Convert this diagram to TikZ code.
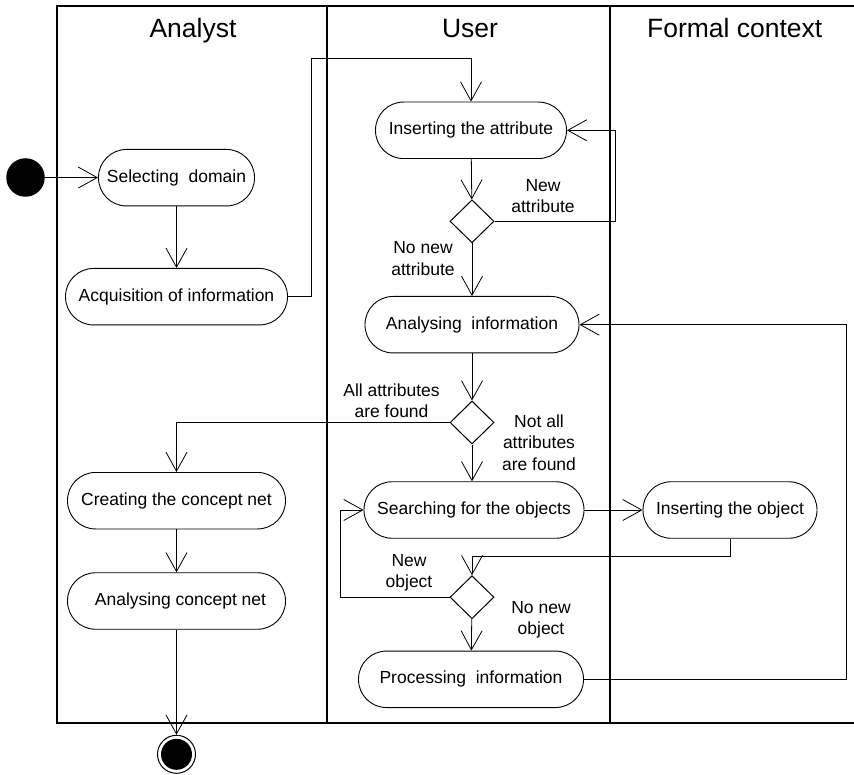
\documentclass[tikz,border=0pt]{standalone}
\usepackage{fontspec}
\setmainfont{Liberation Sans}
\usetikzlibrary{arrows.meta,shapes.geometric}
\begin{document}
\begin{tikzpicture}[x=1pt,y=-1pt,
  act/.style={draw, line width=0.9pt, rounded corners=28pt, minimum height=56.5pt, inner sep=0pt, font=\fontsize{17.5}{21}\selectfont},
  dec/.style={draw, diamond, line width=1pt, minimum width=44pt, minimum height=43pt, inner sep=0pt},
  flow/.style={line width=0.8pt, -{Straight Barb[length=19pt,width=21pt]}},
  link/.style={line width=0.8pt},
  lbl/.style={align=center, font=\fontsize{17.5}{21.3}\selectfont, inner sep=0pt},
  hdr/.style={font=\fontsize{26.5}{30}\selectfont, anchor=base, inner sep=0pt},
  frame/.style={line width=1.8pt}]
\useasboundingbox (0,0) rectangle (854,775);

% swimlane frame
\draw[frame] (856,6) -- (57.3,6) -- (57.3,722.7) -- (856,722.7);
\draw[frame] (327,6) -- (327,722.7);
\draw[frame] (610,6) -- (610,722.7);

% headers
\node[hdr] (hA) at (193,38) {Analyst};
\node[hdr] (hU) at (470,38) {User};
\node[hdr] (hF) at (734.7,38) {Formal context};

% start / end
\node[circle, fill=black, minimum size=38.5pt, inner sep=0pt] (start) at (25.5,177.5) {};
\node[circle, draw, line width=1pt, minimum size=38pt, inner sep=0pt] (final) at (176.5,754.3) {};
\fill (final.center) circle (15.5pt);

% activities - Analyst
\node[act, minimum width=156pt] (sel) at (176.5,177.7) {Selecting~~domain};
\node[act, minimum width=222pt] (acq) at (176.5,296.7) {Acquisition of information};
\node[act, minimum width=218pt] (creat) at (176.5,500.7) {Creating the concept net};
\node[act, minimum width=218pt] (anaC) at (176.5,601) {\hspace{8pt}Analysing concept net};

% activities - User
\node[act, minimum width=191pt] (insA) at (471,130.3) {Inserting the attribute};
\node[dec] (d1) at (472,221.3) {};
\node[act, minimum width=214pt] (anaI) at (472,324.7) {Analysing~~information};
\node[dec] (d2) at (472,422.5) {};
\node[act, minimum width=220pt] (search) at (474,510) {Searching for the objects};
\node[dec] (d3) at (472,597.2) {};
\node[act, minimum width=225pt] (proc) at (471,679.3) {Processing~~information};

% activities - Formal context
\node[act, minimum width=174pt] (insO) at (730,510) {Inserting the object};

% guard labels
\node[lbl] (lNewA) at (543,196) {New\\attribute};
\node[lbl] (lNoNewA) at (423,258.5) {No new\\attribute};
\node[lbl] (lAll) at (391.5,400.5) {All attributes\\are found};
\node[lbl] (lNotAll) at (539,442.5) {Not all\\attributes\\are found};
\node[lbl] (lNewO) at (409,572.5) {New\\object};
\node[lbl] (lNoNewO) at (541,619.5) {No new\\object};

% helper coordinates
\coordinate (c1) at (311.7,58.3);
\coordinate (c2) at (615.6,221.3);
\coordinate (c3) at (472,556.7);
\coordinate (c4) at (340.4,597.2);
\coordinate (c5) at (846.7,679.3);

% connectors
\draw[flow] (start) -- (sel);
\draw[flow] (sel) -- (acq);
\draw[flow] (acq.east) -| (c1) -| (insA.north);
\draw[flow] (insA) -- (d1);
\draw[flow] (d1.east) -- (c2) |- (insA.east);
\draw[flow] (d1) -- (anaI);
\draw[flow] (anaI) -- (d2);
\draw[flow] (d2.west) -| (creat.north);
\draw[flow] (d2.south) -- (d2.south |- search.north);
\draw[flow] (search) -- (insO);
\draw[flow] (insO.south) |- (c3) -- (d3.north);
\draw[flow] (d3.west) -- (c4) |- (search.west);
\draw[flow] (d3) -- (proc);
\draw[flow] (proc.east) -- (c5) |- (anaI.east);
\draw[flow] (creat) -- (anaC);
\draw[flow] (anaC) -- (final);
\end{tikzpicture}
\end{document}
